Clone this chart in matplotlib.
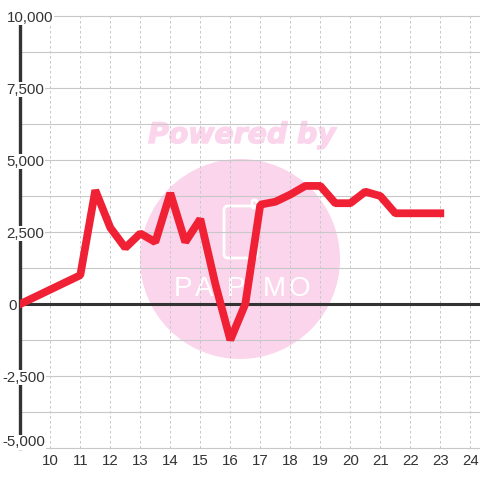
import matplotlib
matplotlib.use("Agg")
import matplotlib.pyplot as plt
import matplotlib.patheffects as pe
from matplotlib.patches import Circle, FancyBboxPatch

hours = [9, 11, 11.5, 12, 12.5, 13, 13.5, 14, 14.5, 15, 15.5, 16, 16.5, 17, 17.5, 18, 18.5, 19, 19.5, 20, 20.5, 21, 21.5, 22, 22.5, 23]
values = [0, 1000, 3950, 2650, 1950, 2450, 2150, 3850, 2150, 2950, 700, -1250, 0, 3450, 3550, 3800, 4100, 4100, 3500, 3500, 3900, 3750, 3150, 3150, 3150, 3150]
xticks = list(range(10, 25))
yticks = [-5000, -2500, 0, 2500, 5000, 7500, 10000]
yminor = [-3750, -1250, 1250, 3750, 6250, 8750]
logo_letters = ['P', 'A', 'P', 'M', 'O']
logo_x = [183, 204, 236, 274, 299]

plt.rcParams['font.family'] = 'Liberation Sans'
W = 480
PINK = '#FBD5EC'
fig = plt.figure(figsize=(4.8, 4.8), dpi=100, facecolor='white')

# watermark layer in pixel coordinates
bg = fig.add_axes([0, 0, 1, 1], zorder=0)
bg.set_xlim(0, W); bg.set_ylim(W, 0); bg.axis('off')
bg.add_patch(Circle((240, 259), 100, fc=PINK, ec='none'))
bg.text(242, 135, 'Powered by', family='DejaVu Sans', weight='bold', style='italic',
        fontsize=20.4, color=PINK, ha='center', va='center',
        path_effects=[pe.withStroke(linewidth=1.0, foreground=PINK)])
bg.add_patch(FancyBboxPatch((224, 206), 33, 52, boxstyle='round,pad=0,rounding_size=4',
                            fc='none', ec='white', lw=2.0))
bg.add_patch(FancyBboxPatch((252, 200), 5, 8, boxstyle='round,pad=0,rounding_size=2',
                            fc='none', ec='white', lw=2.0))
for ch, lx in zip(logo_letters, logo_x):
    bg.text(lx, 289, ch, fontsize=20, color='white', ha='center', va='center')

ax = fig.add_axes([20.3 / W, 32 / W, (W - 20.3) / W, 432 / W], zorder=1)
ax.patch.set_alpha(0)
ax.set_xlim(9, 9 + (W - 20.3) / 30)
ax.set_ylim(-5000, 10000)
for s in ax.spines.values():
    s.set_visible(False)
ax.tick_params(length=0)
ax.set_xticks(xticks)
ax.set_xticklabels([str(v) for v in xticks], fontsize=10.8, color='#333333')
ax.tick_params(axis='x', pad=4.5)
ax.set_yticks([])

for y in sorted(yticks + yminor):
    if y != 0:
        ax.axhline(y, color='#C8C8C8', lw=0.8, zorder=1, clip_on=False)
for x in xticks:
    ax.axvline(x, color='#C8C8C8', lw=0.72, ls=(0, (2.5, 2.5)), zorder=1)
ax.axvline(9, color='#333333', lw=2.4, zorder=2, clip_on=False)
ax.axhline(0, color='#333333', lw=2.2, zorder=3)

ax.plot(hours, values, color='#F02035', lw=5.6, solid_joinstyle='bevel',
        solid_capstyle='projecting', zorder=4)

# y labels, left aligned with a white backing that interrupts axis and grid
for y in yticks:
    label = '0' if y == 0 else f'{y:,}'
    px = 8 if y == 0 else (2.5 if y < 0 else 6.5)
    py = 304 - y / 2500 * 72
    if y == -5000:
        py = 441
    ax.annotate(label, xy=(px, W - py), xycoords='figure pixels', ha='left',
                va='center_baseline', fontsize=10.8, color='#333333', zorder=6,
                annotation_clip=False,
                bbox=dict(fc='white', ec='none', pad=0.4))

fig.savefig('out.png', dpi=100)
